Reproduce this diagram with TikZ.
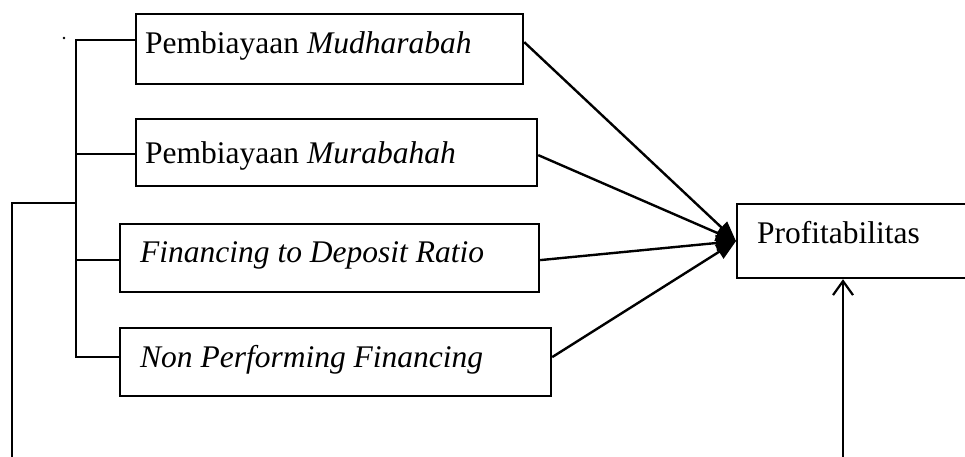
\documentclass[tikz,border=0pt]{standalone}
\usepackage{fontspec}
\setmainfont{Liberation Serif}
\usetikzlibrary{arrows.meta}
\begin{document}
\begin{tikzpicture}[x=1pt,y=-1pt,
  boxnode/.style={draw, line width=2.2pt, inner sep=0pt, anchor=north west},
  txt/.style={inner sep=0pt, anchor=base west, font=\fontsize{31.5}{36}\selectfont},
  conn/.style={line width=2.2pt},
  arr/.style={line width=2.4pt, -{Triangle[length=20pt,width=16pt]}},
  barb/.style={line width=2.2pt, -{Straight Barb[length=14pt,width=20pt]}}]
\useasboundingbox (0,0) rectangle (965,456);
\clip (0,0) rectangle (965,456);
% boxes
\node[boxnode, minimum width=387pt, minimum height=70pt] (m1) at (135,13) {};
\node[boxnode, minimum width=401pt, minimum height=67pt] (m2) at (135,118) {};
\node[boxnode, minimum width=419pt, minimum height=68pt] (fdr) at (119,223) {};
\node[boxnode, minimum width=431pt, minimum height=68pt] (npf) at (119,327) {};
\node[boxnode, minimum width=260pt, minimum height=74pt] (prof) at (736,203) {};
% texts
\node[txt] (t1) at (145,53) {Pembiayaan \textit{Mudharabah}};
\node[txt] (t2) at (145,163) {Pembiayaan \textit{Murabahah}};
\node[txt] (t3) at (140,262) {\textit{Financing to Deposit Ratio}};
\node[txt] (t4) at (140,367) {\textit{Non Performing Financing}};
\node[txt] (t5) at (757,243) {Profitabilitas};
% stray dot
\fill (64,38) circle (1.3);
% bracket
\coordinate (j1) at (76,40);
\coordinate (j2) at (76,154);
\coordinate (j3) at (76,260);
\coordinate (j4) at (76,357);
\coordinate (jo) at (76,203);
\draw[conn] (j1 -| m1.west) -- (j1) -- (j4) -- (j4 -| npf.west);
\draw[conn] (j2) -- (j2 -| m2.west);
\draw[conn] (j3) -- (j3 -| fdr.west);
% outer loop to Profitabilitas
\coordinate (ob) at (12,480);
\draw[barb] (jo) -| (ob) -| (843,480) -- (prof.south -| 843,0);
% arrows
\draw[arr] ([yshift=7pt]m1.east) -- (prof.west);
\draw[arr] ([yshift=-2.5pt]m2.east) -- (prof.west);
\draw[arr] ([yshift=-2pt]fdr.east) -- (prof.west);
\draw[arr] ([yshift=5pt]npf.east) -- (prof.west);
\end{tikzpicture}
\end{document}
